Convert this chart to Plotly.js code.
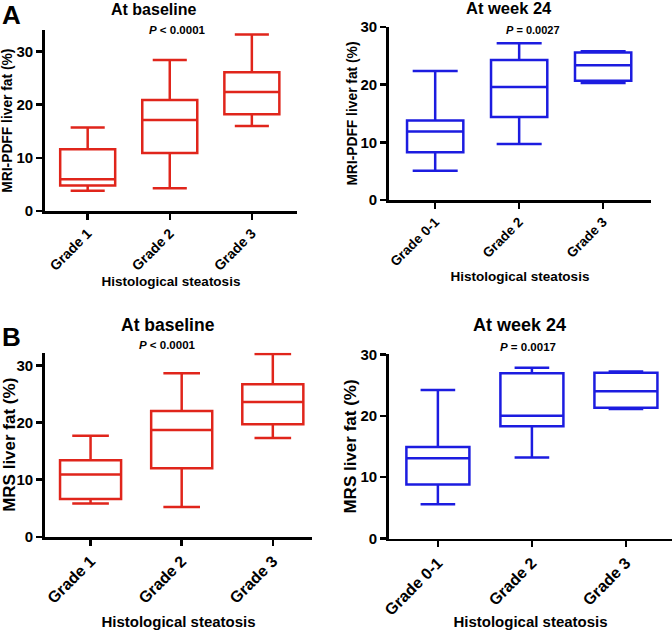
<!DOCTYPE html>
<html>
<head>
<meta charset="utf-8">
<script src="https://cdn.plot.ly/plotly-3.0.1.min.js"></script>
<style>
  html, body { margin: 0; padding: 0; background: #fff; }
  #chart { width: 672px; height: 630px; }
</style>
</head>
<body>
<div id="chart"></div>
<script>
// categories
const gradesBase = ['Grade 1', 'Grade 2', 'Grade 3'];
const gradesWk24 = ['Grade 0-1', 'Grade 2', 'Grade 3'];

// A - MRI-PDFF at baseline
const pdffBaseLo = [3.8, 4.3, 16.0];
const pdffBaseQ1 = [4.8, 10.9, 18.2];
const pdffBaseMed = [6.0, 17.1, 22.4];
const pdffBaseQ3 = [11.6, 20.9, 26.1];
const pdffBaseHi = [15.7, 28.4, 33.2];

// A - MRI-PDFF at week 24
const pdffWkLo = [5.1, 9.7, 20.3];
const pdffWkQ1 = [8.3, 14.4, 20.7];
const pdffWkMed = [11.9, 19.6, 23.4];
const pdffWkQ3 = [13.8, 24.3, 25.6];
const pdffWkHi = [22.4, 27.2, 25.8];

// B - MRS at baseline
const mrsBaseLo = [5.8, 5.2, 17.3];
const mrsBaseQ1 = [6.6, 12.0, 19.7];
const mrsBaseMed = [10.9, 18.7, 23.6];
const mrsBaseQ3 = [13.4, 22.0, 26.7];
const mrsBaseHi = [17.7, 28.6, 32.0];

// B - MRS at week 24
const mrsWkLo = [5.6, 13.2, 21.1];
const mrsWkQ1 = [8.8, 18.3, 21.3];
const mrsWkMed = [13.1, 20.0, 24.0];
const mrsWkQ3 = [14.9, 26.9, 27.0];
const mrsWkHi = [24.2, 27.8, 27.2];

const yTicks = [0, 10, 20, 30];

const RED = '#e0251b';
const BLUE = '#1c1ce0';
const FONT = 'Arial, "Liberation Sans", sans-serif';

function boxTrace(cats, lo, q1, med, q3, hi, color, xa, ya, ww) {
    return {
        type: 'box',
        x: cats,
        lowerfence: lo,
        q1: q1,
        median: med,
        q3: q3,
        upperfence: hi,
        boxpoints: false,
        width: 0.67,
        whiskerwidth: ww,
        line: { color: color, width: 2.5 },
        fillcolor: 'rgba(0,0,0,0)',
        xaxis: xa,
        yaxis: ya,
        showlegend: false,
        hoverinfo: 'skip'
    };
}

let traces = [
    boxTrace(gradesBase, pdffBaseLo, pdffBaseQ1, pdffBaseMed, pdffBaseQ3, pdffBaseHi, RED, 'x', 'y', 0.62),
    boxTrace(gradesWk24, pdffWkLo, pdffWkQ1, pdffWkMed, pdffWkQ3, pdffWkHi, BLUE, 'x2', 'y2', 0.8),
    boxTrace(gradesBase, mrsBaseLo, mrsBaseQ1, mrsBaseMed, mrsBaseQ3, mrsBaseHi, RED, 'x3', 'y3', 0.6),
    boxTrace(gradesWk24, mrsWkLo, mrsWkQ1, mrsWkMed, mrsWkQ3, mrsWkHi, BLUE, 'x4', 'y4', 0.55)
];

function xAxis(domain, range, anchor, tickSize, titleSize, standoff) {
    return {
        domain: domain,
        range: range,
        anchor: anchor,
        type: 'category',
        showline: true,
        linecolor: '#000',
        linewidth: 2.8,
        showgrid: false,
        zeroline: false,
        ticks: 'outside',
        ticklen: 6,
        tickwidth: 2.5,
        tickcolor: '#000',
        tickangle: -45,
        tickfont: { family: FONT, size: tickSize, color: '#000', weight: 'bold' },
        automargin: false,
        title: {
            text: 'Histological steatosis',
            font: { family: FONT, size: titleSize, color: '#000', weight: 'bold' },
            standoff: standoff
        }
    };
}

function yAxis(domain, range, anchor, label, titleSize, standoff) {
    return {
        domain: domain,
        range: range,
        anchor: anchor,
        showline: true,
        linecolor: '#000',
        linewidth: 2.8,
        showgrid: false,
        zeroline: false,
        tickvals: yTicks,
        ticks: 'outside',
        ticklen: 6,
        tickwidth: 2.5,
        tickcolor: '#000',
        tickfont: { family: FONT, size: 15, color: '#000', weight: 'bold' },
        automargin: false,
        title: {
            text: label,
            font: { family: FONT, size: titleSize, color: '#000', weight: 'bold' },
            standoff: standoff
        }
    };
}

function note(text, x, y, size) {
    return {
        text: text,
        xref: 'paper', yref: 'paper',
        x: x / 672, y: 1 - y / 630,
        xanchor: 'center', yanchor: 'middle',
        showarrow: false,
        font: { family: FONT, size: size, color: '#000', weight: 'bold' }
    };
}

let layout = {
    width: 672,
    height: 630,
    margin: { l: 0, r: 0, t: 0, b: 0 },
    paper_bgcolor: '#fff',
    plot_bgcolor: '#fff',
    xaxis: xAxis([45 / 672, 297 / 672], [-0.52, 2.55], 'y', 14, 13.5, 4),
    yaxis: yAxis([0.665, 0.952], [0, 34], 'x', 'MRI-PDFF liver fat (%)', 13.8, 3),
    xaxis2: xAxis([389 / 672, 651 / 672], [-0.55, 2.57], 'y2', 13.5, 13.5, 4),
    yaxis2: yAxis([0.6825, 0.957], [0, 30], 'x2', 'MRI-PDFF liver fat (%)', 13.8, 0),
    xaxis3: xAxis([45 / 672, 312 / 672], [-0.5, 2.43], 'y3', 16, 15, 14),
    yaxis3: yAxis([0.148, 0.44], [0, 32.2], 'x3', 'MRS liver fat (%)', 17, 4),
    xaxis4: xAxis([389 / 672, 1], [-0.52, 2.49], 'y4', 16, 15, 8),
    yaxis4: yAxis([0.145, 0.4376], [0, 30], 'x4', 'MRS liver fat (%)', 17, 0),
    annotations: [
        note('A', 11, 15, 26),
        note('At baseline', 153, 10, 16),
        note('<i>P</i> &lt; 0.0001', 177, 30, 11.5),
        note('At week 24', 509, 8, 16.5),
        note('<i>P</i> = 0.0027', 533, 30, 11),
        note('B', 11, 337, 26),
        note('At baseline', 168, 325, 17.5),
        note('<i>P</i> &lt; 0.0001', 167, 345, 11.5),
        note('At week 24', 519, 325, 18),
        note('<i>P</i> = 0.0017', 528, 347, 11.5)
    ]
};

Plotly.newPlot('chart', traces, layout, { displayModeBar: false, staticPlot: true });
</script>
</body>
</html>
